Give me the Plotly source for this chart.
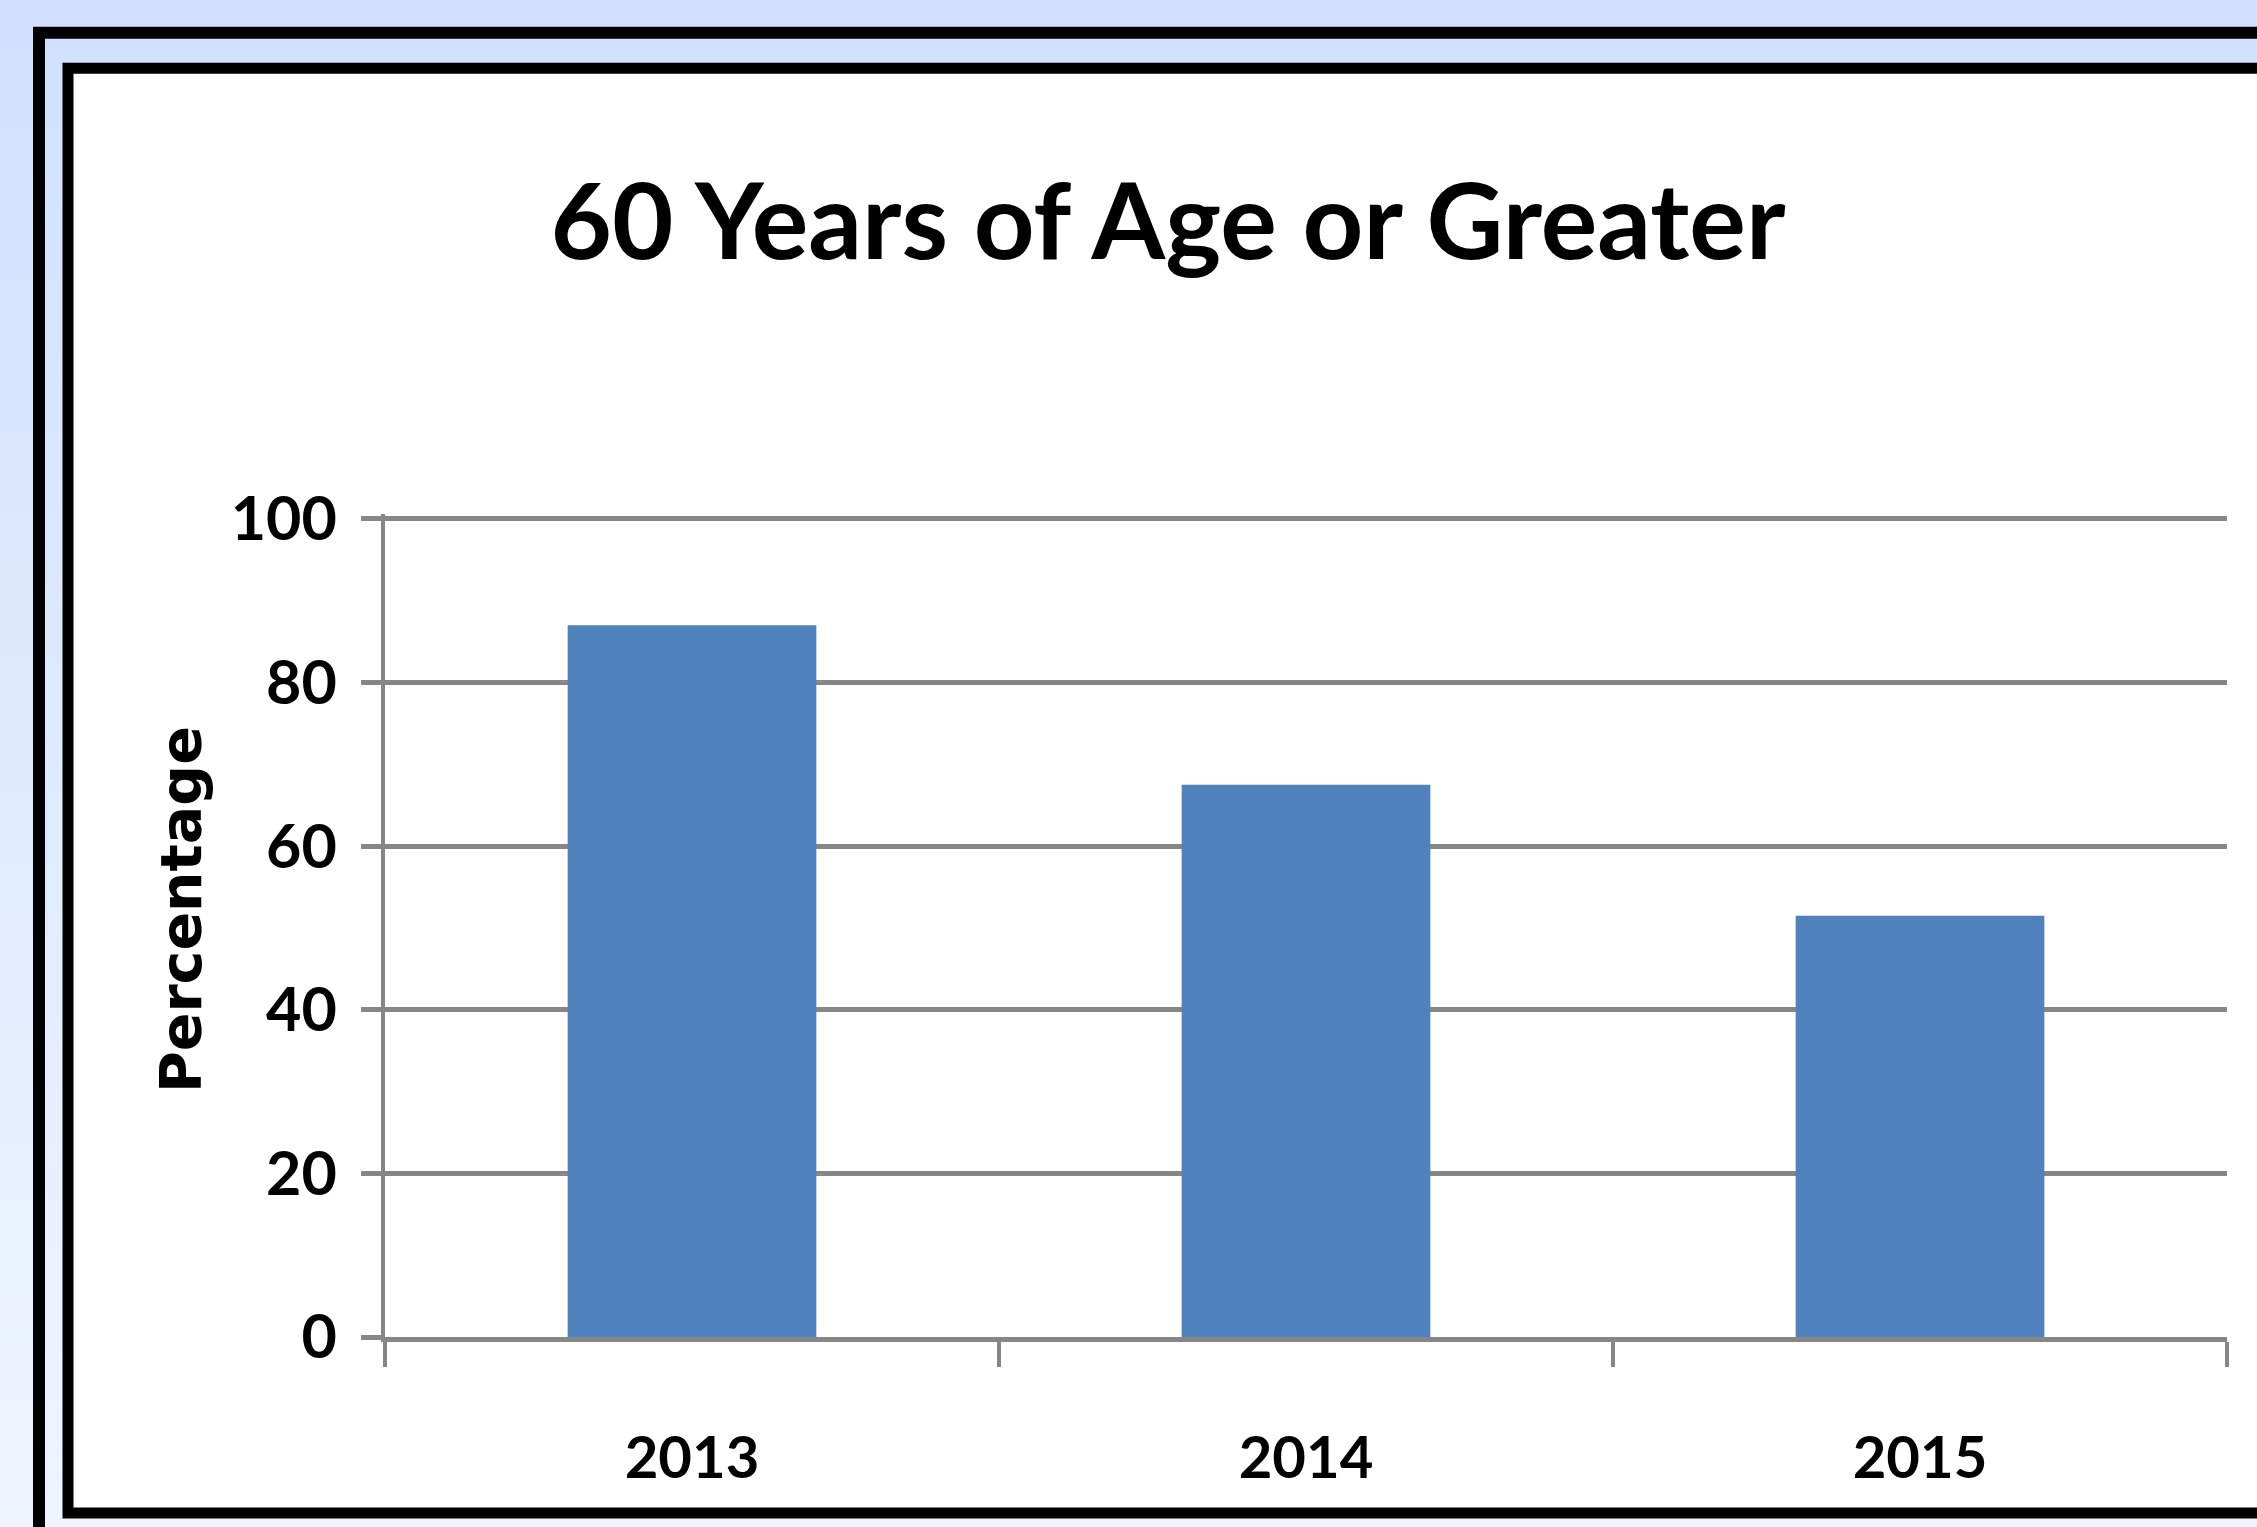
import plotly.graph_objects as go

# ---- data ----
years = ["2013", "2014", "2015"]
percentages = [87, 67.5, 51.5]
y_ticks = [0, 20, 40, 60, 80, 100]
title_text = "60 Years of Age or Greater"
y_title = "Percentage"

W, H = 2257, 1527
YMAX = 100.6
L, R, B = 385, 2227, 1337
T = B - (B - 519) * YMAX / 100  # so that 100 sits at pixel 519
PW, PH = R - L, B - T


def px(x):
    return (x - L) / PW


def py(y):
    return (B - y) / PH


shapes = []
# vertical gradient background via stripes
n = 60
c0 = (208, 224, 254)
c1 = (239, 244, 255)
for i in range(n):
    f = i / (n - 1)
    col = tuple(round(c0[k] + (c1[k] - c0[k]) * f) for k in range(3))
    y0 = H * i / n
    y1 = H * (i + 1) / n + 1
    shapes.append(dict(type="rect", xref="paper", yref="paper", layer="below",
                       x0=px(-10), x1=px(W + 10), y0=py(y0), y1=py(y1),
                       line=dict(width=0), fillcolor="rgb(%d,%d,%d)" % col))
# outer frame
shapes.append(dict(type="rect", xref="paper", yref="paper", layer="below",
                   x0=px(39), x1=px(W + 60), y0=py(33), y1=py(H + 60),
                   line=dict(color="black", width=12), fillcolor="rgba(0,0,0,0)"))
# inner frame
shapes.append(dict(type="rect", xref="paper", yref="paper", layer="below",
                   x0=px(68), x1=px(W + 60), y0=py(68.5), y1=py(1513),
                   line=dict(color="black", width=11), fillcolor="white"))

fig = go.Figure()
fig.add_trace(go.Bar(x=years, y=percentages, marker=dict(color="#4F81BD", line=dict(width=0))))

FONT = "Lato"
grid = "#868686"

fig.update_layout(
    width=W, height=H,
    margin=dict(l=L, r=W - R, t=T, b=H - B, pad=0),
    paper_bgcolor="white",
    plot_bgcolor="rgba(0,0,0,0)",
    showlegend=False,
    bargap=0.595,
    shapes=shapes,
    title=dict(text=title_text, xref="container", yref="container",
               x=1168 / W, xanchor="center", y=1 - 222 / H, yanchor="middle",
               font=dict(family=FONT, size=106, color="black", weight="bold")),
    annotations=[dict(text=y_title, xref="paper", yref="paper",
                      x=px(181), y=py(910), xanchor="center", yanchor="middle",
                      textangle=-90, showarrow=False,
                      font=dict(family="DejaVu Sans", size=57, color="black", weight="bold"))],
    xaxis=dict(type="category", tickson="boundaries", ticks="outside", ticklen=25,
               tickwidth=4, tickcolor=grid, showline=True, linecolor=grid, linewidth=5,
               showgrid=False, ticklabelstandoff=66,
               tickfont=dict(family=FONT, size=58, color="black", weight="bold")),
    yaxis=dict(range=[0, YMAX], tickvals=y_ticks, ticks="outside", ticklen=20,
               tickwidth=5, tickcolor=grid, showline=True, linecolor=grid, linewidth=4,
               showgrid=True, gridcolor=grid, gridwidth=5, zeroline=False,
               ticklabelstandoff=12,
               tickfont=dict(family=FONT, size=61, color="black", weight="bold")),
)

fig.write_html("out.html")
